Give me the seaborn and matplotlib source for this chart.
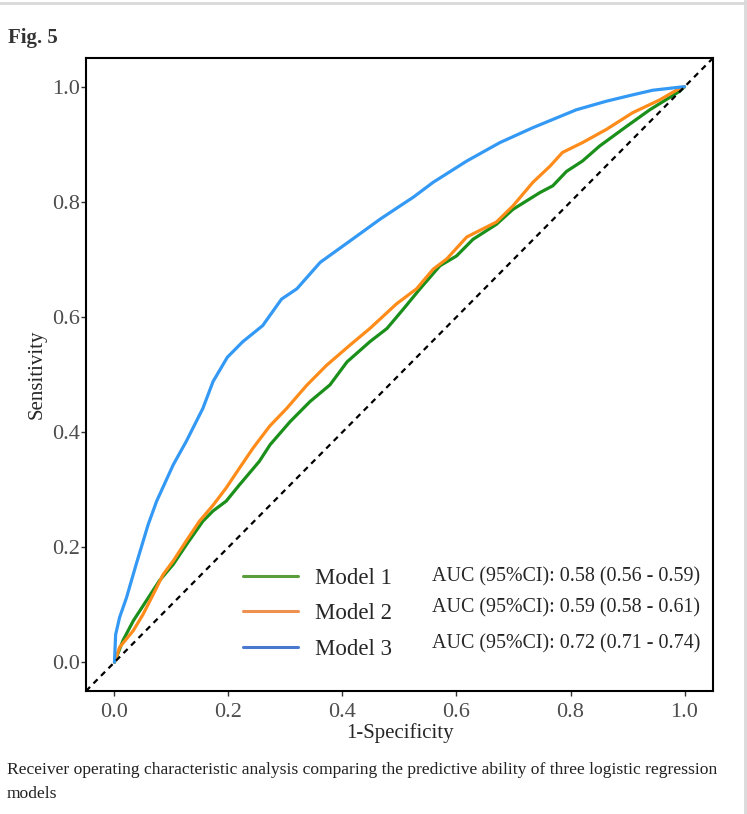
import pandas as pd
import matplotlib
matplotlib.use("Agg")
import matplotlib.pyplot as plt
import seaborn as sns
from matplotlib.lines import Line2D

sns.set_style("white")
plt.rcParams['font.family'] = ['Liberation Serif', 'DejaVu Serif']

# ROC points (1-specificity, sensitivity)
fpr_m1 = [0, 0.015, 0.033, 0.056, 0.079, 0.103, 0.126, 0.155, 0.173, 0.196, 0.219, 0.254,
          0.273, 0.308, 0.343, 0.378, 0.408, 0.448, 0.478, 0.507, 0.536, 0.571, 0.6, 0.629,
          0.67, 0.699, 0.746, 0.769, 0.793, 0.821, 0.851, 0.898, 0.939, 0.991, 1.0]
tpr_m1 = [0, 0.038, 0.072, 0.107, 0.142, 0.170, 0.204, 0.245, 0.263, 0.28, 0.308, 0.349,
          0.378, 0.418, 0.453, 0.482, 0.522, 0.557, 0.58, 0.614, 0.649, 0.689, 0.706, 0.735,
          0.761, 0.787, 0.816, 0.828, 0.853, 0.871, 0.897, 0.931, 0.96, 0.992, 1.0]

fpr_m2 = [0, 0.009, 0.033, 0.05, 0.068, 0.085, 0.103, 0.126, 0.149, 0.173, 0.196, 0.219,
          0.243, 0.272, 0.302, 0.337, 0.372, 0.413, 0.448, 0.495, 0.53, 0.559, 0.583,
          0.618, 0.67, 0.699, 0.734, 0.764, 0.786, 0.821, 0.863, 0.909, 0.956, 0.991, 1.0]
tpr_m2 = [0, 0.026, 0.055, 0.083, 0.118, 0.152, 0.176, 0.211, 0.245, 0.273, 0.303, 0.337,
          0.372, 0.41, 0.441, 0.481, 0.516, 0.551, 0.58, 0.623, 0.649, 0.683, 0.701,
          0.739, 0.765, 0.793, 0.834, 0.862, 0.886, 0.903, 0.926, 0.955, 0.977, 0.997, 1.0]

fpr_m3 = [0, 0.002, 0.009, 0.021, 0.038, 0.059, 0.074, 0.103, 0.126, 0.155, 0.173, 0.198,
          0.225, 0.26, 0.293, 0.32, 0.361, 0.413, 0.466, 0.501, 0.524, 0.559, 0.618, 0.676,
          0.734, 0.81, 0.863, 0.909, 0.944, 0.997, 1.0]
tpr_m3 = [0, 0.048, 0.078, 0.112, 0.17, 0.239, 0.28, 0.343, 0.384, 0.441, 0.488, 0.53,
          0.557, 0.585, 0.631, 0.649, 0.695, 0.732, 0.77, 0.793, 0.808, 0.834, 0.871, 0.903,
          0.929, 0.96, 0.975, 0.986, 0.994, 1.0, 1.0]

modelos = ['Model 1', 'Model 2', 'Model 3']
auc_txt = ['AUC (95%CI): 0.58 (0.56 - 0.59)',
           'AUC (95%CI): 0.59 (0.58 - 0.61)',
           'AUC (95%CI): 0.72 (0.71 - 0.74)']
cores = {'Model 1': '#1a8f1a', 'Model 2': '#ff8c1a', 'Model 3': '#3399f5'}
cores_legenda = ['#5a9e3c', '#ee9150', '#4a78cf']

df = pd.concat([
    pd.DataFrame({'fpr': fpr_m1, 'tpr': tpr_m1, 'model': 'Model 1'}),
    pd.DataFrame({'fpr': fpr_m2, 'tpr': tpr_m2, 'model': 'Model 2'}),
    pd.DataFrame({'fpr': fpr_m3, 'tpr': tpr_m3, 'model': 'Model 3'}),
], ignore_index=True)

fig = plt.figure(figsize=(7.47, 8.14), dpi=100)
ax = fig.add_axes([0.1151, 0.1511, 0.8394, 0.7776])

sns.lineplot(data=df, x='fpr', y='tpr', hue='model', palette=cores,
             sort=False, estimator=None, linewidth=2.3, legend=False, ax=ax)
ax.axline((0, 0), (1, 1), color='black', linestyle=(0, (2.6, 2.2)), linewidth=1.6)

ax.set_xlim(-0.05, 1.05)
ax.set_ylim(-0.05, 1.05)
ax.set_xticks([0, 0.2, 0.4, 0.6, 0.8, 1.0])
ax.set_yticks([0, 0.2, 0.4, 0.6, 0.8, 1.0])
ax.xaxis.set_major_formatter(matplotlib.ticker.FormatStrFormatter('%.1f'))
ax.yaxis.set_major_formatter(matplotlib.ticker.FormatStrFormatter('%.1f'))
ax.tick_params(axis='both', which='major', length=3.5, width=1, color='#333333',
               labelsize=16, labelcolor='#4d4d4d', pad=1, bottom=True, left=True)
ax.tick_params(axis='x', pad=5)
ax.set_xlabel('1-Specificity', fontsize=15, labelpad=1)
ax.set_ylabel('Sensitivity', fontsize=15, labelpad=4)
for s in ax.spines.values():
    s.set_color('black')
    s.set_linewidth(1.5)

handles = [Line2D([], [], color=c, linewidth=2.2) for c in cores_legenda]
ax.legend(handles, modelos, loc='upper left', bbox_to_anchor=(243 / 747, 1 - 568 / 814),
          bbox_transform=fig.transFigure, frameon=False, fontsize=16.5,
          handlelength=2.4, handletextpad=0.75, labelspacing=0.62,
          borderpad=0, borderaxespad=0)
for i, t in enumerate(auc_txt):
    fig.text(432 / 747, 1 - [577, 608, 644][i] / 814, t, fontsize=14.4, va='center')

fig.text(8 / 747, 1 - 38 / 814, 'Fig. 5', fontsize=15, fontweight='bold',
         color='#333333', va='center')
fig.text(7 / 747, 1 - 770 / 814,
         'Receiver operating characteristic analysis comparing the predictive ability of three logistic regression',
         fontsize=12.6, va='center', color='#222222')
fig.text(7 / 747, 1 - 794 / 814, 'models', fontsize=12.6, va='center', color='#222222')

# page frame lines
fig.add_artist(Line2D([0, 1], [1 - 2.5 / 814, 1 - 2.5 / 814], transform=fig.transFigure,
                      color='#d9d9d9', linewidth=2))
fig.add_artist(Line2D([1 - 2.5 / 747, 1 - 2.5 / 747], [0, 1], transform=fig.transFigure,
                      color='#d9d9d9', linewidth=2))

fig.savefig('out.png', dpi=100)
